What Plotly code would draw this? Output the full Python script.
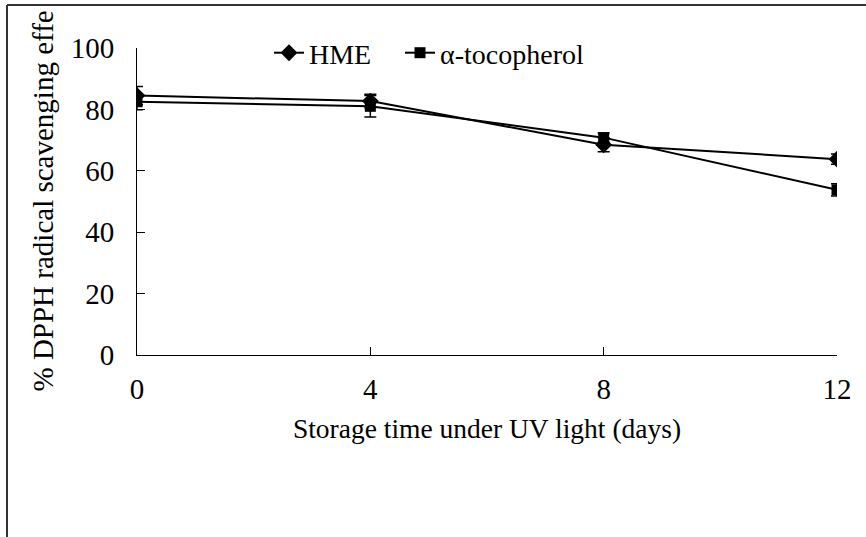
import plotly.graph_objects as go

# Storage time (days) and DPPH radical scavenging effect (%)
days = [0, 4, 8, 12]
hme = [84.5, 82.7, 68.5, 63.8]
hme_err = [3.0, 2.2, 2.3, 1.7]
toco = [82.5, 81.0, 70.8, 53.8]
toco_err = [2.6, 3.5, 1.5, 2.0]

x_ticks = [0, 4, 8, 12]
y_ticks = [0, 20, 40, 60, 80, 100]

FONT = "Liberation Serif"
W, H = 866, 537
L, R, T, B = 137, 29, 48, 182
pw, ph = W - L - R, H - T - B


def px_to_paper_x(px):
    return (px - L) / pw


def px_to_paper_y(py):
    return (H - B - py) / ph


fig = go.Figure()
fig.add_trace(go.Scatter(
    x=days, y=hme, name="HME", mode="lines+markers",
    line=dict(color="black", width=2),
    marker=dict(symbol="diamond", size=13, color="black"),
    error_y=dict(type="data", array=hme_err, color="black", thickness=1.5, width=6),
    legend="legend",
))
fig.add_trace(go.Scatter(
    x=days, y=toco, name="α-tocopherol", mode="lines+markers",
    line=dict(color="black", width=2),
    marker=dict(symbol="square", size=11, color="black"),
    error_y=dict(type="data", array=toco_err, color="black", thickness=1.5, width=6),
    legend="legend2",
))

axis_common = dict(
    showgrid=False, zeroline=False, showline=True, linecolor="black", linewidth=1,
    ticks="inside", ticklen=8, tickcolor="black", tickwidth=1,
    tickfont=dict(family=FONT, size=29, color="black"),
)

fig.update_xaxes(
    range=[0, 12], tickvals=x_ticks, ticktext=[str(v) for v in x_ticks],
    ticklabelstandoff=8,
    title=dict(text="Storage time under UV light (days)",
               font=dict(family=FONT, size=27.5, color="black"), standoff=14),
    **axis_common,
)
fig.update_yaxes(
    range=[0, 100], tickvals=y_ticks, ticktext=[str(v) for v in y_ticks],
    ticklabelstandoff=16,
    **axis_common,
)

# rotated y-axis title, cut off by the outer frame
fig.add_annotation(
    text="% DPPH radical scavenging effe", textangle=-90,
    xref="paper", yref="paper",
    x=px_to_paper_x(42), y=px_to_paper_y(394),
    xanchor="center", yanchor="bottom", showarrow=False,
    font=dict(family=FONT, size=29, color="black"),
)

# outer chart frame (top and left edges)
frame = dict(color="#333333", width=2)
fig.add_shape(type="line", xref="paper", yref="paper",
              x0=px_to_paper_x(7), x1=px_to_paper_x(W + 10),
              y0=px_to_paper_y(5), y1=px_to_paper_y(5), line=frame)
fig.add_shape(type="line", xref="paper", yref="paper",
              x0=px_to_paper_x(7), x1=px_to_paper_x(7),
              y0=px_to_paper_y(5), y1=px_to_paper_y(H + 10), line=frame)

legend_common = dict(
    orientation="h", y=px_to_paper_y(53), xanchor="left", yanchor="middle",
    font=dict(family=FONT, size=28, color="black"),
    bgcolor="rgba(0,0,0,0)", itemwidth=30,
)

fig.update_layout(
    width=W, height=H,
    margin=dict(l=L, r=R, t=T, b=B, autoexpand=False),
    paper_bgcolor="white", plot_bgcolor="white",
    showlegend=True,
    legend=dict(x=px_to_paper_x(269), **legend_common),
    legend2=dict(x=px_to_paper_x(400), **legend_common),
)

fig.write_html("out.html")
